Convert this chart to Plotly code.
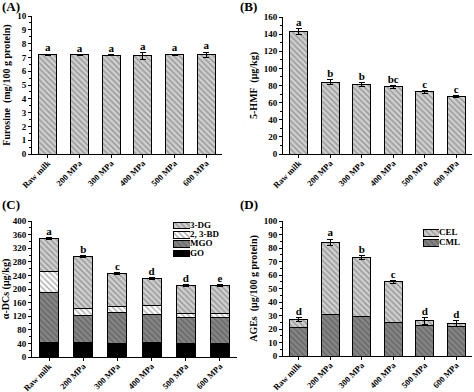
import plotly.graph_objects as go

W, H = 474, 392

categories = ["Raw milk", "200 MPa", "300 MPa", "400 MPa", "500 MPa", "600 MPa"]

# (A) Furosine
furosine = [7.20, 7.18, 7.17, 7.12, 7.20, 7.18]
furosine_err = [0.04, 0.04, 0.03, 0.25, 0.04, 0.20]
furosine_letters = ["a", "a", "a", "a", "a", "a"]

# (B) 5-HMF
hmf = [143, 84, 81, 78.5, 72.5, 67]
hmf_err = [3, 3, 2, 1.5, 1.5, 1.5]
hmf_letters = ["a", "b", "b", "bc", "c", "c"]

# (C) alpha-DCs stacked
go_vals = [43, 42, 41, 43, 39, 39]
mgo_vals = [147, 80, 91, 82, 76, 76]
bd_vals = [61, 22, 17, 26, 13, 13]
dg_vals = [98, 151, 96, 80, 83, 83]
dcs_err = [2.5, 2.5, 2.5, 2.5, 2.5, 2.5]
dcs_letters = ["a", "b", "c", "d", "d", "e"]

# (D) AGEs stacked
cml_vals = [21, 30.5, 29, 24.5, 22.5, 21.5]
cel_vals = [6, 53.5, 44, 30.5, 3.5, 2.5]
ages_err = [1.5, 2.5, 1.5, 1.0, 2.5, 2.0]
ages_letters = ["d", "a", "b", "c", "d", "d"]

FONT = "Liberation Serif"
BAR_W = 0.56

def px_x(a, b):
    return [a / W, b / W]

def px_y(top, bottom):
    return [1 - bottom / H, 1 - top / H]

fig = go.Figure()

LIGHT_BG, LIGHT_FG = "#cfcfcf", "#5a5a5a"
DARK_BG, DARK_FG = "#858585", "#454545"
WHITE_BG, WHITE_FG = "white", "#555555"

def marker_for(bg, fg, solid=False):
    m = dict(color=bg, line=dict(color="black", width=1))
    if not solid:
        m["pattern"] = dict(shape="\\", size=4, solidity=0.35, bgcolor=bg, fgcolor=fg, fillmode="overlay")
    return m

def add_bar(y, name, xa, ya, bg, fg, err=None, solid=False):
    kw = {}
    if err is not None:
        kw["error_y"] = dict(type="data", array=err, visible=True, color="black", thickness=1, width=3)
    fig.add_trace(go.Bar(x=categories, y=y, name=name, xaxis=xa, yaxis=ya, width=BAR_W,
                         marker=marker_for(bg, fg, solid), showlegend=False, **kw))

def add_letters(tops, errs, letters, xa, ya):
    fig.add_trace(go.Scatter(x=categories, y=[t + e for t, e in zip(tops, errs)], text=letters,
                             mode="text", textposition="top center", xaxis=xa, yaxis=ya,
                             textfont=dict(family=FONT, size=11, color="black", weight="bold"),
                             showlegend=False, cliponaxis=False, hoverinfo="skip"))

def add_legend(entries, xa, ya):
    # entries listed bottom to top: (name, bg, fg, solid)
    for i, (name, bg, fg, solid) in enumerate(entries):
        fig.add_trace(go.Bar(x=[1], y=[i], orientation="h", xaxis=xa, yaxis=ya, width=0.72,
                             marker=marker_for(bg, fg, solid), showlegend=False, hoverinfo="skip"))
    fig.add_trace(go.Scatter(x=[1] * len(entries), y=list(range(len(entries))),
                             text=[e[0] for e in entries], mode="text", textposition="middle right",
                             xaxis=xa, yaxis=ya, cliponaxis=False, showlegend=False, hoverinfo="skip",
                             textfont=dict(family=FONT, size=9, color="black", weight="bold")))

# A
add_bar(furosine, "Furosine", "x", "y", LIGHT_BG, LIGHT_FG, err=furosine_err)
add_letters(furosine, furosine_err, furosine_letters, "x", "y")
# B
add_bar(hmf, "5-HMF", "x2", "y2", LIGHT_BG, LIGHT_FG, err=hmf_err)
add_letters(hmf, hmf_err, hmf_letters, "x2", "y2")
# C
add_bar(go_vals, "GO", "x3", "y3", "black", "black", solid=True)
add_bar(mgo_vals, "MGO", "x3", "y3", DARK_BG, DARK_FG)
add_bar(bd_vals, "2, 3-BD", "x3", "y3", WHITE_BG, WHITE_FG)
add_bar(dg_vals, "3-DG", "x3", "y3", LIGHT_BG, LIGHT_FG, err=dcs_err)
dcs_tot = [a + b + c + d for a, b, c, d in zip(go_vals, mgo_vals, bd_vals, dg_vals)]
add_letters(dcs_tot, dcs_err, dcs_letters, "x3", "y3")
add_legend([("GO", "black", "black", True), ("MGO", DARK_BG, DARK_FG, False),
            ("2, 3-BD", WHITE_BG, WHITE_FG, False), ("3-DG", LIGHT_BG, LIGHT_FG, False)], "x5", "y5")
# D
add_bar(cml_vals, "CML", "x4", "y4", DARK_BG, DARK_FG)
add_bar(cel_vals, "CEL", "x4", "y4", LIGHT_BG, LIGHT_FG, err=ages_err)
ages_tot = [a + b for a, b in zip(cml_vals, cel_vals)]
add_letters(ages_tot, ages_err, ages_letters, "x4", "y4")
add_legend([("CML", DARK_BG, DARK_FG, False), ("CEL", LIGHT_BG, LIGHT_FG, False)], "x6", "y6")

ytickfont = dict(family=FONT, size=9, color="black", weight="bold")
xtickfont = dict(family=FONT, size=8.5, color="black", weight="bold")
titlefont = dict(family=FONT, size=10, color="black", weight="bold")

def xaxis(dom, anchor):
    return dict(domain=dom, anchor=anchor, range=[-0.5, 5.5], showline=True, linecolor="black",
                linewidth=1, ticks="outside", ticklen=3, tickangle=-45, tickfont=xtickfont,
                ticklabelstandoff=-3,
                showgrid=False, zeroline=False, mirror=False, automargin=False, tickcolor="black")

def yaxis(dom, anchor, rng, dtick, title, mdt):
    return dict(domain=dom, anchor=anchor, range=rng, dtick=dtick, showline=True, linecolor="black",
                linewidth=1, ticks="outside", ticklen=3, tickfont=ytickfont, showgrid=False,
                zeroline=False, title=dict(text=title, font=titlefont, standoff=4), automargin=False,
                tickcolor="black",
                minor=dict(ticks="outside", ticklen=2, dtick=mdt, tickcolor="black", showgrid=False))

def hidden(dom, anchor, rng):
    return dict(domain=dom, anchor=anchor, range=rng, visible=False, fixedrange=True, automargin=False)

fig.update_layout(
    template="none",
    width=W, height=H, margin=dict(l=0, r=0, t=0, b=0),
    paper_bgcolor="white", plot_bgcolor="rgba(0,0,0,0)", barmode="stack", showlegend=False,
    font=dict(family=FONT, color="black"),
    xaxis=xaxis(px_x(32, 222), "y"),
    yaxis=yaxis(px_y(16, 154), "x", [0, 10], 1, "Furosine  (mg/100 g protein)", 0.5),
    xaxis2=xaxis(px_x(283, 472), "y2"),
    yaxis2=yaxis(px_y(17, 154), "x2", [0, 160], 20, "5-HMF  (μg/kg)", 10),
    xaxis3=xaxis(px_x(32, 237), "y3"),
    yaxis3=yaxis(px_y(221, 357), "x3", [0, 400], 40, "α-DCs (μg/kg)", 20),
    xaxis4=xaxis(px_x(283, 472), "y4"),
    yaxis4=yaxis(px_y(221, 356), "x4", [0, 100], 10, "AGEs  (μg/100 g protein)", 5),
    xaxis5=hidden(px_x(173, 190), "y5", [0, 1]),
    yaxis5=hidden(px_y(221, 258), "x5", [-0.5, 3.5]),
    xaxis6=hidden(px_x(423, 439), "y6", [0, 1]),
    yaxis6=hidden(px_y(228, 248), "x6", [-0.5, 1.5]),
)

panel_font = dict(family=FONT, size=13, color="black", weight="bold")
for txt, x, y in [("(A)", 1, 0), ("(B)", 239, 0), ("(C)", 1, 198), ("(D)", 239, 198)]:
    fig.add_annotation(text=txt, x=x / W, y=1 - y / H, xref="paper", yref="paper",
                       xanchor="left", yanchor="top", showarrow=False, font=panel_font,
                       yshift=2, borderpad=0)

fig.write_html("out.html", config={"displayModeBar": False},
               post_script="document.body.style.margin='0';document.body.style.padding='0';")
